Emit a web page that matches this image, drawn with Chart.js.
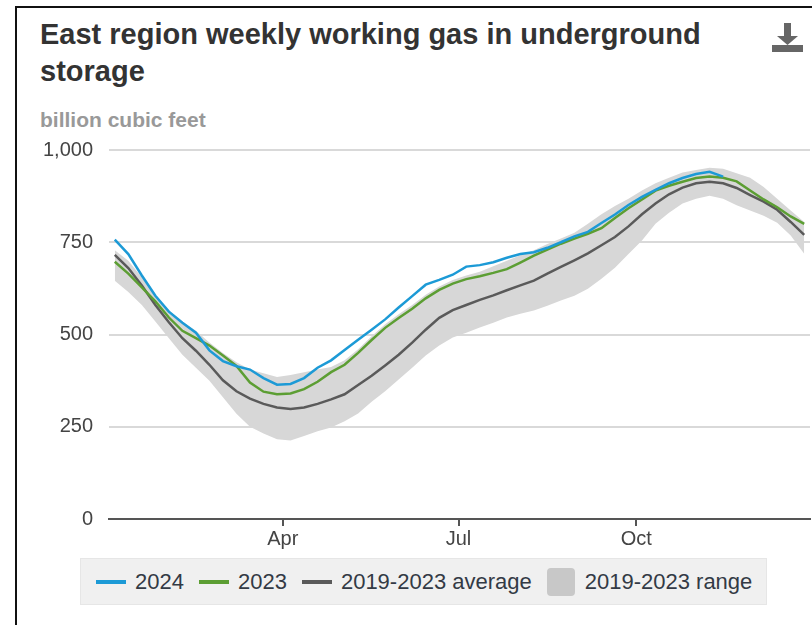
<!DOCTYPE html>
<html>
<head>
<meta charset="utf-8">
<script src="https://cdn.jsdelivr.net/npm/chart.js@4.4.1/dist/chart.umd.min.js"></script>
<style>
    html, body { margin: 0; padding: 0; background: #fff; }
    body { width: 812px; height: 625px; position: relative; overflow: hidden; font-family: "Liberation Sans", Arial, sans-serif; }
    .frame-left { position: absolute; left: 15px; top: 6px; width: 2px; height: 625px; background: #111; }
    .frame-top { position: absolute; left: 15px; top: 6px; width: 800px; height: 2px; background: #111; }
    .title { position: absolute; left: 40px; top: 16px; font-size: 29px; line-height: 37px; font-weight: bold; color: #333;
             white-space: nowrap; }
    .subtitle { position: absolute; left: 40px; top: 108px; font-size: 21px; font-weight: bold; color: #999; }
    .download { position: absolute; left: 772px; top: 23px; }
    #chart-wrap { position: absolute; left: 0; top: 122px; width: 812px; height: 433px; }
    .legend { position: absolute; left: 80px; top: 558px; width: 685px; height: 45px; background: #f0f0f0; border: 1px solid #e6e6e6;
              display: flex; align-items: center; font-size: 22px; color: #333a45; }
    .legend .item { display: flex; align-items: center; margin-left: 15px; }
    .legend .line { width: 30px; height: 4px; margin-right: 9px; }
    .legend .box { width: 28px; height: 28px; border-radius: 4px; background: #c8c8c8; margin-right: 10px; }
</style>
</head>
<body>
<div class="frame-left"></div>
<div class="frame-top"></div>
<div class="title">East region weekly working gas in underground<br>storage</div>
<div class="subtitle">billion cubic feet</div>
<svg class="download" width="32" height="30" viewBox="0 0 32 30">
    <rect x="12" y="0" width="7" height="13" fill="#666"/>
    <polygon points="5,13 26,13 15.5,22" fill="#666"/>
    <rect x="0" y="22" width="31" height="7" fill="#666"/>
</svg>
<div id="chart-wrap"><canvas id="storage-chart"></canvas></div>
<div class="legend">
    <div class="item"><span class="line" style="background:#1c9ad6"></span>2024</div>
    <div class="item"><span class="line" style="background:#5c9e33"></span>2023</div>
    <div class="item"><span class="line" style="background:#5a5a5a"></span>2019-2023 average</div>
    <div class="item"><span class="box"></span>2019-2023 range</div>
</div>

<script>
// day of year for each weekly report
const weekDay = [3, 10, 17, 24, 31, 38, 45, 52, 59, 66, 73, 80, 87, 94, 101, 108, 115, 122, 129, 136,
                 143, 150, 157, 164, 171, 178, 185, 192, 199, 206, 213, 220, 227, 234, 241, 248, 255, 262, 269, 276,
                 283, 290, 297, 304, 311, 318, 325, 332, 339, 346, 353, 360];

// billion cubic feet
const storage2024 = [757, 718, 660, 605, 562, 532, 505, 457, 428, 414, 405, 382, 364, 366, 382, 410, 430, 458, 486, 513,
                     541, 573, 604, 635, 648, 662, 684, 688, 696, 708, 718, 723, 735, 750, 766, 778, 802, 825, 851, 873,
                     892, 910, 924, 935, 941, 928];
const storage2023 = [697, 665, 628, 590, 546, 510, 490, 470, 443, 415, 370, 345, 338, 340, 352, 372, 398, 418, 450, 485,
                     518, 545, 570, 598, 621, 638, 650, 658, 667, 677, 695, 714, 730, 746, 760, 773, 788, 816, 842, 866,
                     890, 903, 914, 924, 928, 925, 915, 890, 866, 845, 820, 800];
const average5yr = [716, 680, 633, 580, 533, 490, 456, 418, 376, 346, 326, 312, 302, 298, 302, 312, 324, 338, 363, 388,
                    416, 445, 478, 513, 545, 566, 580, 594, 606, 620, 633, 646, 665, 683, 701, 720, 742, 764, 793, 826,
                    855, 880, 898, 910, 914, 910, 897, 878, 860, 838, 805, 770];
const rangeLow = [646, 615, 580, 535, 490, 445, 410, 375, 330, 285, 250, 232, 216, 213, 225, 238, 248, 265, 286, 318,
                  346, 378, 410, 443, 470, 492, 505, 519, 532, 546, 556, 565, 578, 592, 605, 624, 651, 681, 718, 755,
                  800, 830, 855, 868, 876, 868, 850, 836, 822, 803, 768, 719];
const rangeHigh = [728, 700, 655, 605, 565, 535, 510, 478, 450, 425, 405, 395, 385, 390, 398, 405, 412, 430, 460, 495,
                   528, 555, 580, 608, 630, 648, 660, 670, 685, 700, 715, 728, 745, 760, 776, 800, 826, 848, 868, 890,
                   910, 925, 939, 946, 952, 949, 937, 925, 900, 868, 836, 805];

const monthTicks = [90, 181, 273];
const monthLabels = ['Apr', 'Jul', 'Oct'];

function toPoints(values) {
    return values.map((v, i) => ({ x: weekDay[i], y: v }));
}

const ctx = document.getElementById('storage-chart').getContext('2d');
const storageChart = new Chart(ctx, {
    type: 'line',
    data: {
        datasets: [
            { label: '2024', data: toPoints(storage2024), borderColor: '#1c9ad6', borderWidth: 2.5, pointRadius: 0, fill: false },
            { label: '2023', data: toPoints(storage2023), borderColor: '#5c9e33', borderWidth: 2.5, pointRadius: 0, fill: false },
            { label: '2019-2023 average', data: toPoints(average5yr), borderColor: '#5a5a5a', borderWidth: 2.5, pointRadius: 0, fill: false },
            { label: '2019-2023 range', data: toPoints(rangeHigh), borderWidth: 0, borderColor: 'rgba(0,0,0,0)',
              backgroundColor: '#d7d7d7', pointRadius: 0, fill: '+1' },
            { label: 'range low', data: toPoints(rangeLow), borderWidth: 0, borderColor: 'rgba(0,0,0,0)', pointRadius: 0, fill: false }
        ]
    },
    options: {
        responsive: true,
        maintainAspectRatio: false,
        animation: false,
        layout: { padding: { top: 1, right: 2, left: 0, bottom: 0 } },
        plugins: {
            legend: { display: false },
            tooltip: { enabled: false }
        },
        scales: {
            x: {
                type: 'linear',
                min: 0,
                max: 363,
                afterBuildTicks: (scale) => { scale.ticks = monthTicks.map(v => ({ value: v })); },
                afterFit: (scale) => { scale.height = 36; },
                grid: { drawOnChartArea: false, drawTicks: true, tickLength: 7, color: '#555', lineWidth: 2 },
                border: { display: true, color: '#555', width: 2 },
                ticks: {
                    autoSkip: false,
                    maxRotation: 0,
                    padding: 1,
                    color: '#444',
                    font: { family: '"Liberation Sans", Arial, sans-serif', size: 20 },
                    callback: (value) => monthLabels[monthTicks.indexOf(value)]
                }
            },
            y: {
                min: 0,
                max: 1000,
                afterFit: (scale) => { scale.width = 109; },
                grid: { color: '#d9d9d9', lineWidth: 2, drawTicks: false },
                border: { display: false },
                ticks: {
                    stepSize: 250,
                    padding: 16,
                    color: '#444',
                    font: { family: '"Liberation Sans", Arial, sans-serif', size: 20 },
                    callback: (value) => value.toLocaleString('en-US')
                }
            }
        }
    }
});
</script>
</body>
</html>
